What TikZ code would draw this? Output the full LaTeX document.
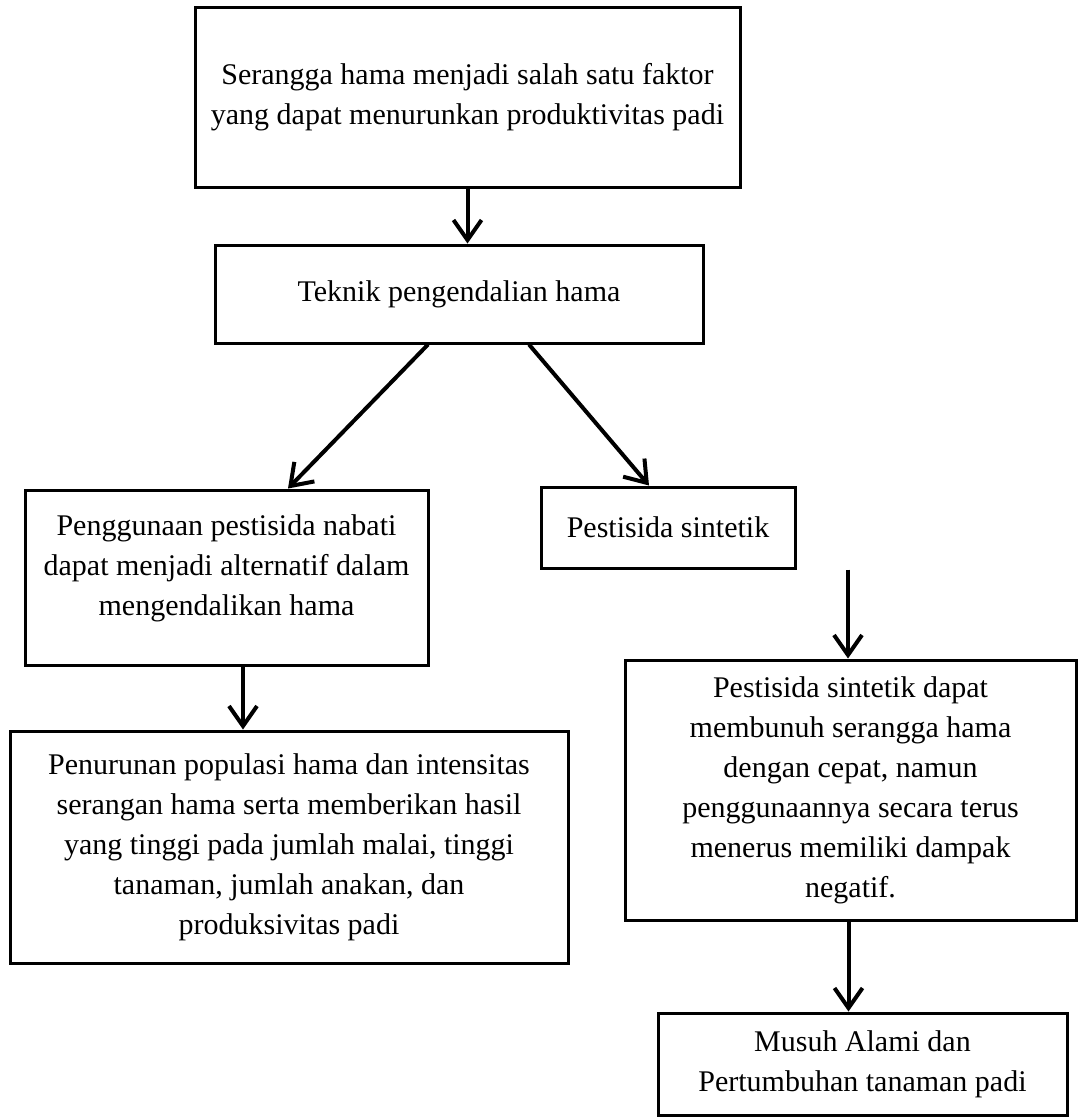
\documentclass[tikz,border=0pt]{standalone}
\usepackage{fontspec}
\setmainfont{Liberation Serif}
\usetikzlibrary{arrows.meta}

\tikzset{
  box/.style={draw, line width=1.5pt, align=center, inner sep=0pt,
    font=\fontsize{15}{20}\selectfont},
  arr/.style={line width=2pt, -{Straight Barb[length=10pt,width=14pt,line width=2pt]}}
}

\begin{document}
\begin{tikzpicture}[x=0.5pt,y=-0.5pt]
\useasboundingbox (0,0) rectangle (1083,1120);

% Boxes
\node[box, minimum width=272.5pt, minimum height=90pt] (masalah) at (467.5,97)
  {Serangga hama menjadi salah satu faktor\\yang dapat menurunkan produktivitas padi};
\node[box, minimum width=244pt, minimum height=49pt] (teknik) at (459,294)
  {Teknik pengendalian hama};
\node[box, minimum width=201.5pt, minimum height=87.5pt] (nabati) at (226.5,577.5)
  {Penggunaan pestisida nabati\\dapat menjadi alternatif dalam\\mengendalikan hama\\[-8pt]};
\node[box, minimum width=127pt, minimum height=40.5pt] (sintetik) at (668,527.5)
  {Pestisida sintetik};
\node[box, minimum width=279pt, minimum height=116pt] (hasil) at (289,847)
  {Penurunan populasi hama dan intensitas\\serangan hama serta memberikan hasil\\yang tinggi pada jumlah malai, tinggi\\tanaman, jumlah anakan, dan\\produksivitas padi};
\node[box, minimum width=225.5pt, minimum height=130pt] (dampak) at (850.5,790)
  {Pestisida sintetik dapat\\membunuh serangga hama\\dengan cepat, namun\\penggunaannya secara terus\\menerus memiliki dampak\\negatif.};
\node[box, minimum width=204.5pt, minimum height=51pt] (musuh) at (862.5,1064)
  {Musuh Alami dan\\Pertumbuhan tanaman padi};

% Arrows
\draw[arr] (masalah.south) -- (masalah.south |- teknik.north);
\draw[arr] ([xshift=-15.5pt]teknik.south) -- ([xshift=30.75pt]nabati.north);
\draw[arr] ([xshift=35pt]teknik.south) -- ([xshift=-9.5pt]sintetik.north);
\draw[arr] ([xshift=8.25pt]nabati.south) -- ([xshift=8.25pt]nabati.south |- hasil.north);
\draw[arr] ([xshift=90pt]sintetik.south) -- ([xshift=90pt]sintetik.south |- dampak.north);
\draw[arr] ([xshift=-1pt]dampak.south) -- ([xshift=-1pt]dampak.south |- musuh.north);

\end{tikzpicture}
\end{document}
